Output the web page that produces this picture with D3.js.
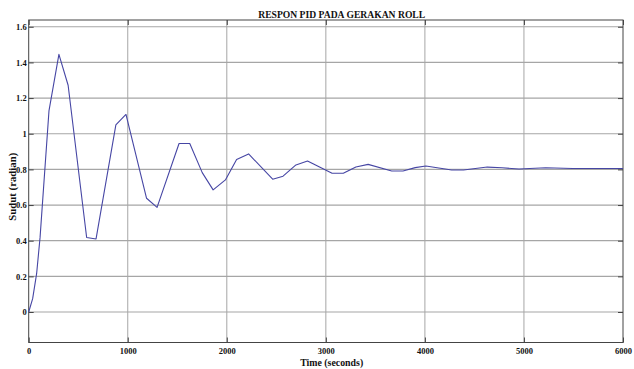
<!DOCTYPE html>
<html>
<head>
<meta charset="utf-8">
<script src="https://cdn.jsdelivr.net/npm/d3@7"></script>
<style>
  html, body { margin: 0; padding: 0; background: #fff; }
  svg { display: block; }
  text { font-family: "Liberation Serif", "Times New Roman", serif; font-weight: bold; fill: #111; }
</style>
</head>
<body>
<svg id="chart" width="634" height="369"></svg>
<script>
// Roll-axis PID step response: time (s) and roll angle (rad)
const timeSec = [0, 40, 80, 115, 205, 305, 398, 585, 680, 880, 982, 1190, 1296, 1518, 1626,
  1752, 1862, 1986, 2099, 2220, 2463, 2568, 2698, 2815, 3063, 3176, 3303, 3427, 3665, 3779,
  3902, 4010, 4270, 4390, 4630, 4780, 4950, 5220, 5490, 6000];
const sudut = [0, 0.075, 0.215, 0.42, 1.13, 1.445, 1.272, 0.418, 0.41, 1.05, 1.108, 0.638, 0.587, 0.945, 0.945,
  0.782, 0.685, 0.741, 0.856, 0.887, 0.745, 0.762, 0.825, 0.847, 0.778, 0.778, 0.813, 0.828, 0.791, 0.791,
  0.810, 0.819, 0.797, 0.797, 0.813, 0.809, 0.802, 0.809, 0.805, 0.805];

const xTicks = [0, 1000, 2000, 3000, 4000, 5000, 6000];
const yTicks = [0, 0.2, 0.4, 0.6, 0.8, 1, 1.2, 1.4, 1.6];
const xTickLabels = ["0", "1000", "2000", "3000", "4000", "5000", "6000"];
const yTickLabels = ["0", "0.2", "0.4", "0.6", "0.8", "1", "1.2", "1.4", "1.6"];

const titleText = "RESPON PID PADA GERAKAN ROLL";
const xLabel = "Time (seconds)";
const yLabel = "Sudut (radian)";

const svg = d3.select("#chart");
const plotL = 28.7, plotR = 623, plotT = 20, plotB = 342.5;

const x = d3.scaleLinear().domain([0, 6000]).range([plotL, plotR]);
const y = d3.scaleLinear().domain([-0.171, 1.638]).range([plotB, plotT]);

// grid
const grid = svg.append("g");
grid.selectAll("line.gy").data(yTicks).join("line")
  .attr("x1", plotL).attr("x2", plotR)
  .attr("y1", d => y(d)).attr("y2", d => y(d))
  .attr("stroke", "#a6a6a6").attr("stroke-width", 1.2);
grid.selectAll("line.gx").data(xTicks.slice(1, -1)).join("line")
  .attr("y1", plotT).attr("y2", plotB)
  .attr("x1", d => x(d)).attr("x2", d => x(d))
  .attr("stroke", "#a6a6a6").attr("stroke-width", 1);

// axes with inward ticks on all four sides
const tl = 5;
const axB = d3.axisBottom(x).tickValues(xTicks).tickSize(-tl).tickFormat((d, i) => xTickLabels[i]).tickPadding(5);
const axT = d3.axisTop(x).tickValues(xTicks).tickSize(-tl).tickFormat("");
const axL = d3.axisLeft(y).tickValues(yTicks).tickSize(-tl).tickFormat((d, i) => yTickLabels[i]).tickPadding(2);
const axR = d3.axisRight(y).tickValues(yTicks).tickSize(-tl).tickFormat("");

function style(g) {
  g.select(".domain").remove();
  g.selectAll(".tick line").attr("stroke", "#444");
  g.selectAll(".tick text").style("font-size", "8.5px").attr("fill", "#111");
}
svg.append("g").attr("transform", `translate(0,${plotB})`).call(axB).call(style);
svg.append("g").attr("transform", `translate(0,${plotT})`).call(axT).call(style);
svg.append("g").attr("transform", `translate(${plotL},0)`).call(axL).call(style);
svg.append("g").attr("transform", `translate(${plotR},0)`).call(axR).call(style);

// box
svg.append("rect").attr("x", plotL).attr("y", plotT)
  .attr("width", plotR - plotL).attr("height", plotB - plotT)
  .attr("fill", "none").attr("stroke", "#444").attr("stroke-width", 1);

// response line
const line = d3.line().x((d, i) => x(timeSec[i])).y(d => y(d));
svg.append("path").datum(sudut)
  .attr("d", line)
  .attr("fill", "none").attr("stroke", "#4646a4").attr("stroke-width", 1.1)
  .attr("stroke-linejoin", "round");

// labels
svg.append("text").attr("x", 341.7).attr("y", 18).attr("text-anchor", "middle")
  .style("font-size", "10.5px").attr("textLength", 167).attr("lengthAdjust", "spacingAndGlyphs")
  .text(titleText);
svg.append("text").attr("x", 331.7).attr("y", 365.5).attr("text-anchor", "middle")
  .style("font-size", "10.5px").attr("textLength", 63).attr("lengthAdjust", "spacingAndGlyphs")
  .text(xLabel);
svg.append("text").attr("transform", "translate(16,186.7) rotate(-90)").attr("text-anchor", "middle")
  .style("font-size", "9.5px").attr("textLength", 68).attr("lengthAdjust", "spacingAndGlyphs")
  .text(yLabel);
</script>
</body>
</html>
